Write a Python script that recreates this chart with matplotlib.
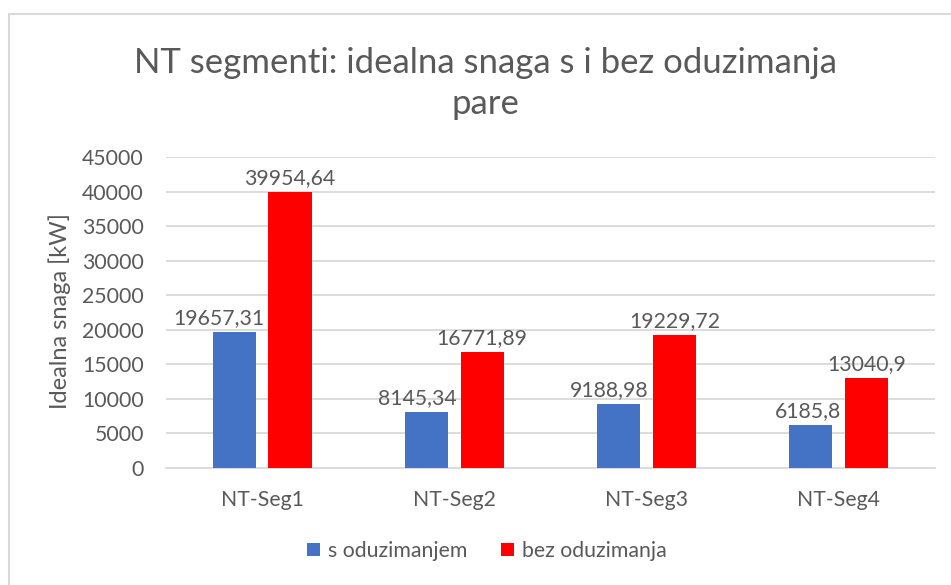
import numpy as np
import matplotlib
matplotlib.use("Agg")
import matplotlib.pyplot as plt
from matplotlib.lines import Line2D

categories = ["NT-Seg1", "NT-Seg2", "NT-Seg3", "NT-Seg4"]
s_oduzimanjem = [19657.31, 8145.34, 9188.98, 6185.8]
bez_oduzimanja = [39954.64, 16771.89, 19229.72, 13040.9]
series_names = ["s oduzimanjem", "bez oduzimanja"]
y_ticks = list(range(0, 45001, 5000))

BLUE = "#4472c4"
RED = "#ff0000"
TXT = "#595959"
GRID = "#d9d9d9"
FS = 15.3

plt.rcParams.update({"font.family": ["Lato", "DejaVu Sans"], "text.color": TXT})


def fmt(v):
    s = f"{v:.2f}".rstrip("0").rstrip(".")
    return s.replace(".", ",")


fig = plt.figure(figsize=(9.51, 5.85), dpi=100)
ax = fig.add_axes([0.1746, 0.2, 0.8084, 0.5316])

x = np.arange(len(categories))
w = 0.224
off = 0.145
b1 = ax.bar(x - off, s_oduzimanjem, w, color=BLUE, label=series_names[0], zorder=3)
b2 = ax.bar(x + off, bez_oduzimanja, w, color=RED, label=series_names[1], zorder=3)

labels = {}
for key, bars, vals in (("s", b1, s_oduzimanjem), ("b", b2, bez_oduzimanja)):
    labels[key] = []
    for b, v in zip(bars, vals):
        t = ax.annotate(fmt(v), (b.get_x() + b.get_width() / 2, v),
                        xytext=(0, 4), textcoords="offset pixels",
                        ha="center", va="bottom", fontsize=FS, color=TXT)
        labels[key].append(t)

ax.set_xlim(-0.5, len(categories) - 0.5)
ax.set_ylim(0, 45000)
ax.set_yticks(y_ticks)
ax.set_yticklabels([str(t) for t in y_ticks], fontsize=FS, color=TXT)
ax.set_xticks(x)
ax.set_xticklabels(categories, fontsize=FS, color=TXT)
ax.tick_params(axis="both", length=0)
ax.tick_params(axis="y", pad=16)
ax.tick_params(axis="x", pad=16)
ax.yaxis.grid(True, color=GRID, lw=1.3, zorder=0)
ax.set_axisbelow(True)
for s in ("top", "right", "left"):
    ax.spines[s].set_visible(False)
ax.spines["bottom"].set_color(GRID)
ax.spines["bottom"].set_linewidth(1.3)

ax.set_ylabel("Idealna snaga [kW]", fontsize=17, color=TXT)
ax.yaxis.set_label_coords(-0.124, 0.505)

fig.text(0.51, 0.857, "NT segmenti: idealna snaga s i bez oduzimanja\npare",
         ha="center", va="center", fontsize=25, color=TXT, linespacing=1.32)

fig.legend(loc="center", bbox_to_anchor=(0.512, 0.058), ncol=2, frameon=False,
           fontsize=FS, handlelength=0.62, handleheight=0.62,
           handletextpad=0.35, columnspacing=1.6)

# blue labels that would run into the neighbouring red bar slide left
fig.canvas.draw()
r = fig.canvas.get_renderer()
for t, rb in zip(labels["s"], b2):
    ext = t.get_window_extent(r)
    red_left = rb.get_window_extent(r).x0
    if ext.x1 > red_left - 4:
        t.set_position((red_left - 4 - ext.x1, 4))

# chart frame (top and left edges)
fig.add_artist(Line2D([8.5 / 951, 1.0], [1 - 13.5 / 585] * 2,
                      transform=fig.transFigure, color=GRID, lw=1.5))
fig.add_artist(Line2D([8.5 / 951] * 2, [0.0, 1 - 13.5 / 585],
                      transform=fig.transFigure, color=GRID, lw=1.5))

fig.savefig("out.png", dpi=100, facecolor="white")
